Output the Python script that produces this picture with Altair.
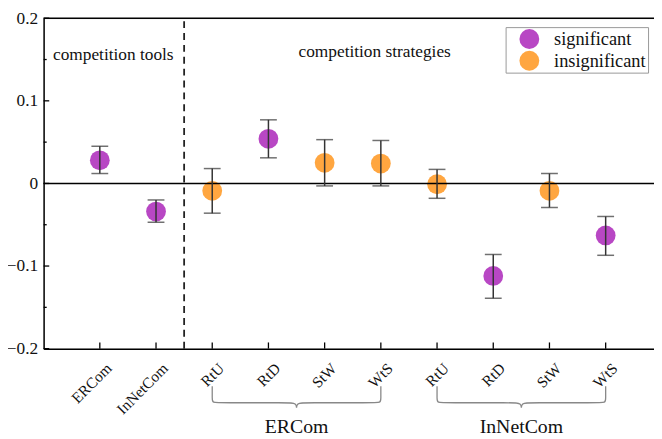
import altair as alt
import pandas as pd

# ---------------- data ----------------
labels = ["ERCom", "InNetCom", "RtU", "RtD", "StW", "WtS", "RtU", "RtD", "StW", "WtS"]
positions = [1, 2, 3, 4, 5, 6, 7, 8, 9, 10]
estimates = [0.028, -0.034, -0.009, 0.054, 0.025, 0.024, -0.001, -0.112, -0.009, -0.063]
lower = [0.012, -0.047, -0.036, 0.031, -0.003, -0.003, -0.018, -0.139, -0.029, -0.087]
upper = [0.045, -0.020, 0.018, 0.077, 0.053, 0.052, 0.017, -0.086, 0.012, -0.040]
significance = ["significant", "significant", "insignificant", "significant", "insignificant",
                "insignificant", "insignificant", "significant", "insignificant", "significant"]

y_major = [-0.2, -0.1, 0.0, 0.1, 0.2]
y_minor = [-0.15, -0.05, 0.05, 0.15]

group_names = ["ERCom", "InNetCom"]
group_start = [3, 7]
group_end = [6, 10]

section_labels = ["competition tools", "competition strategies"]

# ---------------- layout helpers ----------------
XMAX = 10.86
YMIN, YMAX = -0.2, 0.2
SERIF = "Liberation Serif"
PURPLE = "#B847C4"
ORANGE = "#FFA640"

df = pd.DataFrame({"x": positions, "y": estimates, "lo": lower, "hi": upper,
                   "sig": significance, "label": labels})

label_js = "[" + ",".join("'%s'" % l for l in labels) + "]"

x_enc = alt.X("x:Q", scale=alt.Scale(domain=[0, XMAX], nice=False, zero=False),
              axis=alt.Axis(values=positions, labelExpr=label_js + "[datum.value-1]",
                            ticks=False, grid=False, domainColor="black", domainWidth=1.5,
                            labelAngle=-45, labelAlign="right", labelBaseline="top",
                            labelFont=SERIF, labelFontSize=15.5, labelColor="#111",
                            labelPadding=12, labelOffset=4, labelOverlap=False,
                            labelBound=False, title=None))
y_enc = alt.Y("y:Q", scale=alt.Scale(domain=[YMIN, YMAX], nice=False, zero=False),
              axis=alt.Axis(values=y_major, format="~g", ticks=False, grid=False,
                            domainColor="black", domainWidth=1.5, labelFont=SERIF,
                            labelFontSize=17.5, labelColor="#111", labelPadding=6,
                            labelOverlap=False, title=None))

# points
points = alt.Chart(df).mark_circle(size=400, opacity=1).encode(
    x=x_enc, y=y_enc,
    color=alt.Color("sig:N",
                    scale=alt.Scale(domain=["significant", "insignificant"], range=[PURPLE, ORANGE]),
                    legend=alt.Legend(orient="none", legendX=467, legendY=9, title=None,
                                      strokeColor="#999", padding=2, symbolOffset=12,
                                      symbolSize=400, symbolType="circle", symbolStrokeWidth=0,
                                      labelFont=SERIF, labelFontSize=18.5, labelColor="#111",
                                      labelOffset=15, rowPadding=2, labelLimit=200)),
)

# error bars
bars = alt.Chart(df).mark_rule(color="#333", strokeWidth=1.5).encode(
    x="x:Q", y=alt.Y("lo:Q"), y2="hi:Q")
cap_lo = alt.Chart(df).mark_tick(color="#333", size=17, thickness=1.5, orient="horizontal").encode(
    x="x:Q", y="lo:Q")
cap_hi = alt.Chart(df).mark_tick(color="#333", size=17, thickness=1.5, orient="horizontal").encode(
    x="x:Q", y="hi:Q")

# zero line and top border
hlines = pd.DataFrame({"x": [0, 0], "x2": [XMAX, XMAX], "y": [0.0, YMAX]})
hrules = alt.Chart(hlines).mark_rule(color="black", strokeWidth=1.5).encode(
    x="x:Q", x2="x2:Q", y="y:Q")

# dashed divider
divider = alt.Chart(pd.DataFrame({"x": [2.5], "y": [YMIN], "y2": [YMAX]})).mark_rule(
    color="#222", strokeWidth=1.8, strokeDash=[7, 5]).encode(x="x:Q", y="y:Q", y2="y2:Q")

# inward ticks
yt = pd.DataFrame({"x": [0] * (len(y_major) + len(y_minor)),
                   "x2": [0.1] * len(y_major) + [0.055] * len(y_minor),
                   "y": y_major + y_minor})
yticks = alt.Chart(yt).mark_rule(color="black", strokeWidth=1.3).encode(
    x="x:Q", x2="x2:Q", y="y:Q")
xt = pd.DataFrame({"x": positions, "y": [YMIN] * len(positions),
                   "y2": [YMIN + 0.0075] * len(positions)})
xticks = alt.Chart(xt).mark_rule(color="black", strokeWidth=1.3).encode(
    x="x:Q", y="y:Q", y2="y2:Q")

# section texts
sec = pd.DataFrame({"x": [1.24, 5.89], "y": [0.156, 0.159], "t": section_labels})
sec_text = alt.Chart(sec).mark_text(font=SERIF, fontSize=17.5, color="#111").encode(
    x="x:Q", y="y:Q", text="t:N")

# braces
y0, y1, y2 = -0.2455, -0.2655, -0.2745
rows = []
for g, a, b in zip(group_names, group_start, group_end):
    m = (a + b) / 2
    pts = [(a, y0), (a, y1 + 0.004), (a, y1), (a + 0.15, y1), (m - 0.15, y1), (m, y1),
           (m, y2), (m, y1), (m + 0.15, y1), (b - 0.15, y1), (b, y1), (b, y1 + 0.004), (b, y0)]
    for i, (px, py) in enumerate(pts):
        rows.append({"x": px, "y": py, "g": g, "o": i})
brace_df = pd.DataFrame(rows)
braces = alt.Chart(brace_df).mark_line(color="#888", strokeWidth=1.3, interpolate="basis").encode(
    x="x:Q", y="y:Q", detail="g:N", order="o:Q")

grp = pd.DataFrame({"x": [(a + b) / 2 for a, b in zip(group_start, group_end)],
                    "y": [-0.295, -0.295], "t": group_names})
grp_text = alt.Chart(grp).mark_text(font=SERIF, fontSize=20, color="#111").encode(
    x="x:Q", y="y:Q", text="t:N")

chart = alt.layer(points, hrules, divider, bars, cap_lo, cap_hi, yticks, xticks,
                  sec_text, braces, grp_text).properties(
    width=617, height=334,
    autosize=alt.AutoSizeParams(type="none"),
    padding={"left": 36, "top": 8, "right": 0, "bottom": 89},
).configure_view(stroke=None).configure(background="white", font=SERIF).configure_axis(
    labelFont=SERIF).configure_legend(labelFont=SERIF)

chart.save("out.html", embed_options={"renderer": "svg", "actions": False})
